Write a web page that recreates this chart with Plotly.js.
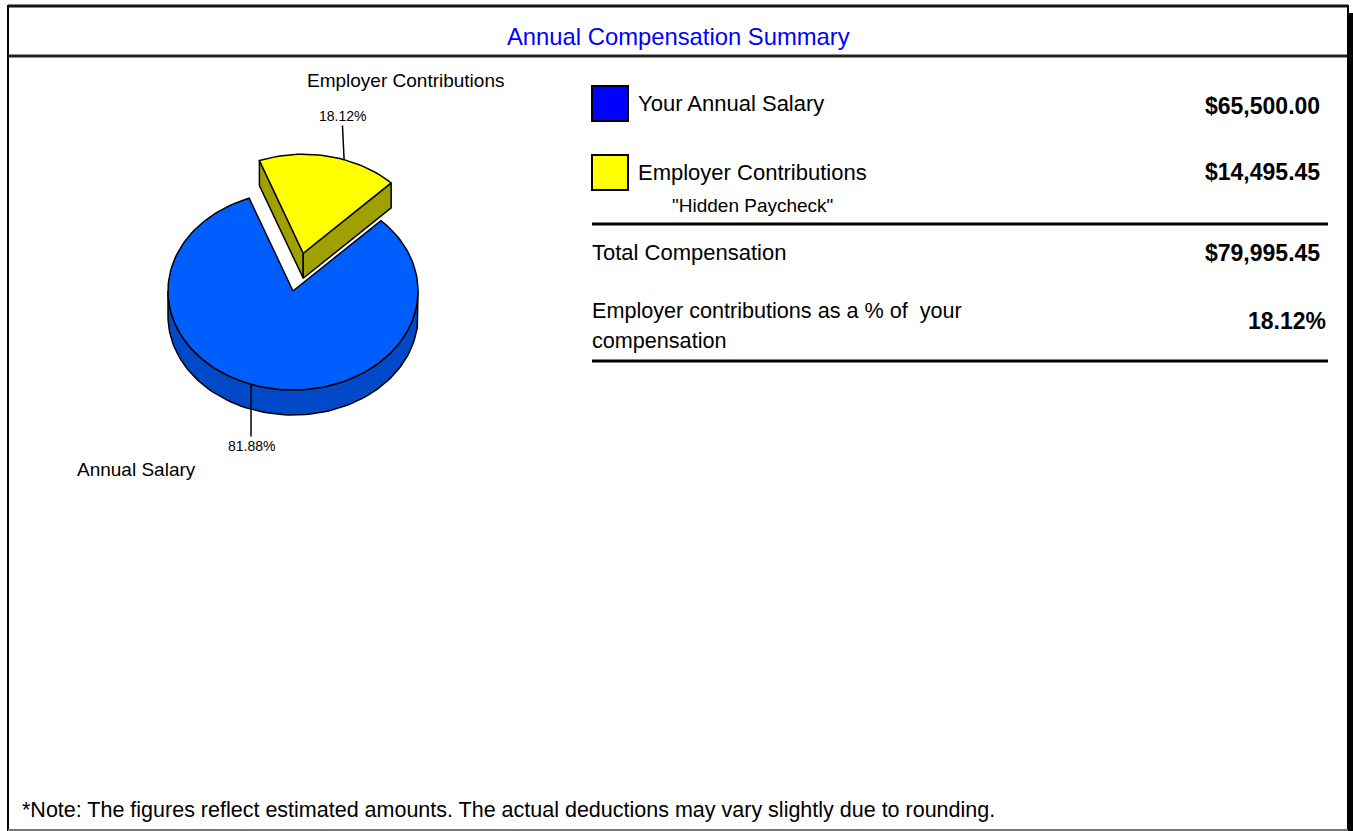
<!DOCTYPE html>
<html><head><meta charset="utf-8">
<script src="https://cdn.plot.ly/plotly-3.0.1.min.js"></script>
<style>html,body{margin:0;padding:0;background:#fff;overflow:hidden}#chart{width:1353px;height:831px}</style>
</head><body><div id="chart"></div>
<script>
// ---------- data ----------
const categories = ["Annual Salary", "Employer Contributions"];
const amounts = [65500.00, 14495.45];
const percentLabels = ["81.88%", "18.12%"];
const legendLabels = ["Your Annual Salary", "Employer Contributions"];
const legendSubLabel = "\"Hidden Paycheck\"";
const totalLabel = "Total Compensation";
const totalAmount = 79995.45;
const shareLabelLines = ["Employer contributions as a % of \u00a0your", "compensation"];
const shareValue = "18.12%";
const chartTitle = "Annual Compensation Summary";
const footNote = "*Note: The figures reflect estimated amounts. The actual deductions may vary slightly due to rounding.";

// ---------- style ----------
const FONT = "Liberation Sans, Arial, Helvetica, sans-serif";
const topColors = ["#005eff", "#ffff00"];
const sideColors = ["#0049c9", "#a0a000"];
const legendColors = ["#0000ff", "#ffff00"];
const cx = 293, cy = 291, rx = 125, ry = 99, depth = 25;
const midYellow = 77.9;     // parametric angle of exploded slice centre
const pull = 0.39;
const money = v => "$" + v.toLocaleString("en-US", {minimumFractionDigits: 2, maximumFractionDigits: 2});

const total = amounts.reduce((a, b) => a + b, 0);
const span = amounts[1] / total * 360;
const yStart = midYellow - span / 2, yEnd = midYellow + span / 2;
const rad = d => d * Math.PI / 180;
const ox = pull * rx * Math.cos(rad(midYellow)), oy = -pull * ry * Math.sin(rad(midYellow));
const pt = (t, dx, dy, dz) => [cx + dx + rx * Math.cos(rad(t)), cy + dy - ry * Math.sin(rad(t)) + dz];

function arc(a0, a1, dx, dy, dz) {
  const n = Math.max(2, Math.ceil(Math.abs(a1 - a0) / 2));
  const out = [];
  for (let i = 0; i <= n; i++) out.push(pt(a0 + (a1 - a0) * i / n, dx, dy, dz));
  return out;
}
function poly(points, fill, name) {
  return {type: "scatter", mode: "lines", name: name, x: points.map(p => p[0]), y: points.map(p => p[1]),
    fill: "toself", fillcolor: fill, line: {color: "#000", width: 1.5}, hoverinfo: "skip", showlegend: false};
}

const traces = [];
// blue slice: from yEnd to yStart+360
const bA = yEnd, bB = yStart + 360;
const sA = Math.max(bA, 180), sB = Math.min(bB, 360);
const sideTop = arc(sA, sB, 0, 0, 0), sideBot = arc(sB, sA, 0, 0, depth);
traces.push(poly(sideTop.concat(sideBot, [sideTop[0]]), sideColors[0], categories[0]));
const c0 = [cx, cy];
traces.push(poly([c0].concat(arc(bA, bB, 0, 0, 0), [c0]), topColors[0], categories[0]));
// yellow exploded slice
const apex = [cx + ox, cy + oy], apexB = [cx + ox, cy + oy + depth];
const cL = pt(yEnd, ox, oy, 0), cLb = pt(yEnd, ox, oy, depth);
const cR = pt(yStart, ox, oy, 0), cRb = pt(yStart, ox, oy, depth);
traces.push(poly([apex, cL, cLb, apexB, apex], sideColors[1], categories[1]));
traces.push(poly([apex, cR, cRb, apexB, apex], sideColors[1], categories[1]));
traces.push(poly([apex].concat(arc(yStart, yEnd, ox, oy, 0), [apex]), topColors[1], categories[1]));

// label anchors
const aBlue = pt(250.4, 0, 0, 0);
const aYel = pt(70.9, ox, oy, 0);

const ann = [];
const T = (x, y, text, opt) => ann.push(Object.assign({x, y, xref: "x", yref: "y", text, showarrow: false,
  xanchor: "left", yanchor: "middle", font: {family: FONT, size: 22, color: "#000"}}, opt || {}));

T(678, 36, chartTitle, {xanchor: "center", font: {family: FONT, size: 23.8, color: "#0000ff"}});
T(405, 80, categories[1], {xanchor: "center", font: {family: FONT, size: 19, color: "#000"}});
T(136, 469, categories[0], {xanchor: "center", font: {family: FONT, size: 19, color: "#000"}});
ann.push({x: aYel[0], y: aYel[1], xref: "x", yref: "y", axref: "x", ayref: "y", ax: 342, ay: 116,
  text: percentLabels[1], showarrow: true, arrowhead: 0, arrowwidth: 1.5, arrowcolor: "#000", standoff: 0,
  font: {family: FONT, size: 14, color: "#000"}});
ann.push({x: aBlue[0], y: aBlue[1], xref: "x", yref: "y", axref: "x", ayref: "y", ax: 251, ay: 446,
  text: percentLabels[0], showarrow: true, arrowhead: 0, arrowwidth: 1.5, arrowcolor: "#000", standoff: 0,
  font: {family: FONT, size: 14, color: "#000"}});

T(636, 103, legendLabels[0]);
T(636, 172, legendLabels[1]);
T(752, 205, legendSubLabel, {xanchor: "center", font: {family: FONT, size: 19, color: "#000"}});
T(590, 252, totalLabel);
T(590, 310, shareLabelLines[0], {font: {family: FONT, size: 21.6, color: "#000"}});
T(590, 340, shareLabelLines[1], {font: {family: FONT, size: 21.6, color: "#000"}});
const B = {xanchor: "right", font: {family: FONT, size: 23, color: "#000", weight: "bold"}};
T(1322, 106, "<b>" + money(amounts[0]) + "</b>", B);
T(1322, 172, "<b>" + money(amounts[1]) + "</b>", B);
T(1322, 253, "<b>" + money(totalAmount) + "</b>", B);
T(1328, 321, "<b>" + shareValue + "</b>", B);
T(20, 810, footNote, {font: {family: FONT, size: 21.5, color: "#000"}});

const shapes = [
  {type: "rect", xref: "x", yref: "y", x0: 1349, x1: 1354, y0: 13, y1: 832, fillcolor: "#000", line: {width: 0}},
  {type: "rect", xref: "x", yref: "y", x0: 8, x1: 1348, y0: 6, y1: 830, line: {color: "#000", width: 2}},
  {type: "line", xref: "x", yref: "y", x0: 8, x1: 1348, y0: 6, y1: 6, line: {color: "#111", width: 3}},
  {type: "line", xref: "x", yref: "y", x0: 8, x1: 1348, y0: 56, y1: 56, line: {color: "#222", width: 3}},
  {type: "line", xref: "x", yref: "y", x0: 8, x1: 1348, y0: 830, y1: 830, line: {color: "#777", width: 2}},
  {type: "line", xref: "x", yref: "y", x0: 592, x1: 1328, y0: 224, y1: 224, line: {color: "#000", width: 3}},
  {type: "line", xref: "x", yref: "y", x0: 592, x1: 1328, y0: 361, y1: 361, line: {color: "#000", width: 3}},
  {type: "rect", xref: "x", yref: "y", x0: 592, x1: 628, y0: 86, y1: 121, fillcolor: legendColors[0], line: {color: "#000", width: 2}},
  {type: "rect", xref: "x", yref: "y", x0: 592, x1: 628, y0: 155, y1: 190, fillcolor: legendColors[1], line: {color: "#000", width: 2}}
];

const layout = {
  width: 1353, height: 831, margin: {l: 0, r: 0, t: 0, b: 0},
  paper_bgcolor: "#fff", plot_bgcolor: "#fff", showlegend: false,
  xaxis: {range: [0, 1353], visible: false, fixedrange: true},
  yaxis: {range: [831, 0], visible: false, fixedrange: true},
  annotations: ann, shapes: shapes
};
Plotly.newPlot("chart", traces, layout, {staticPlot: true, displayModeBar: false});
</script></body></html>
